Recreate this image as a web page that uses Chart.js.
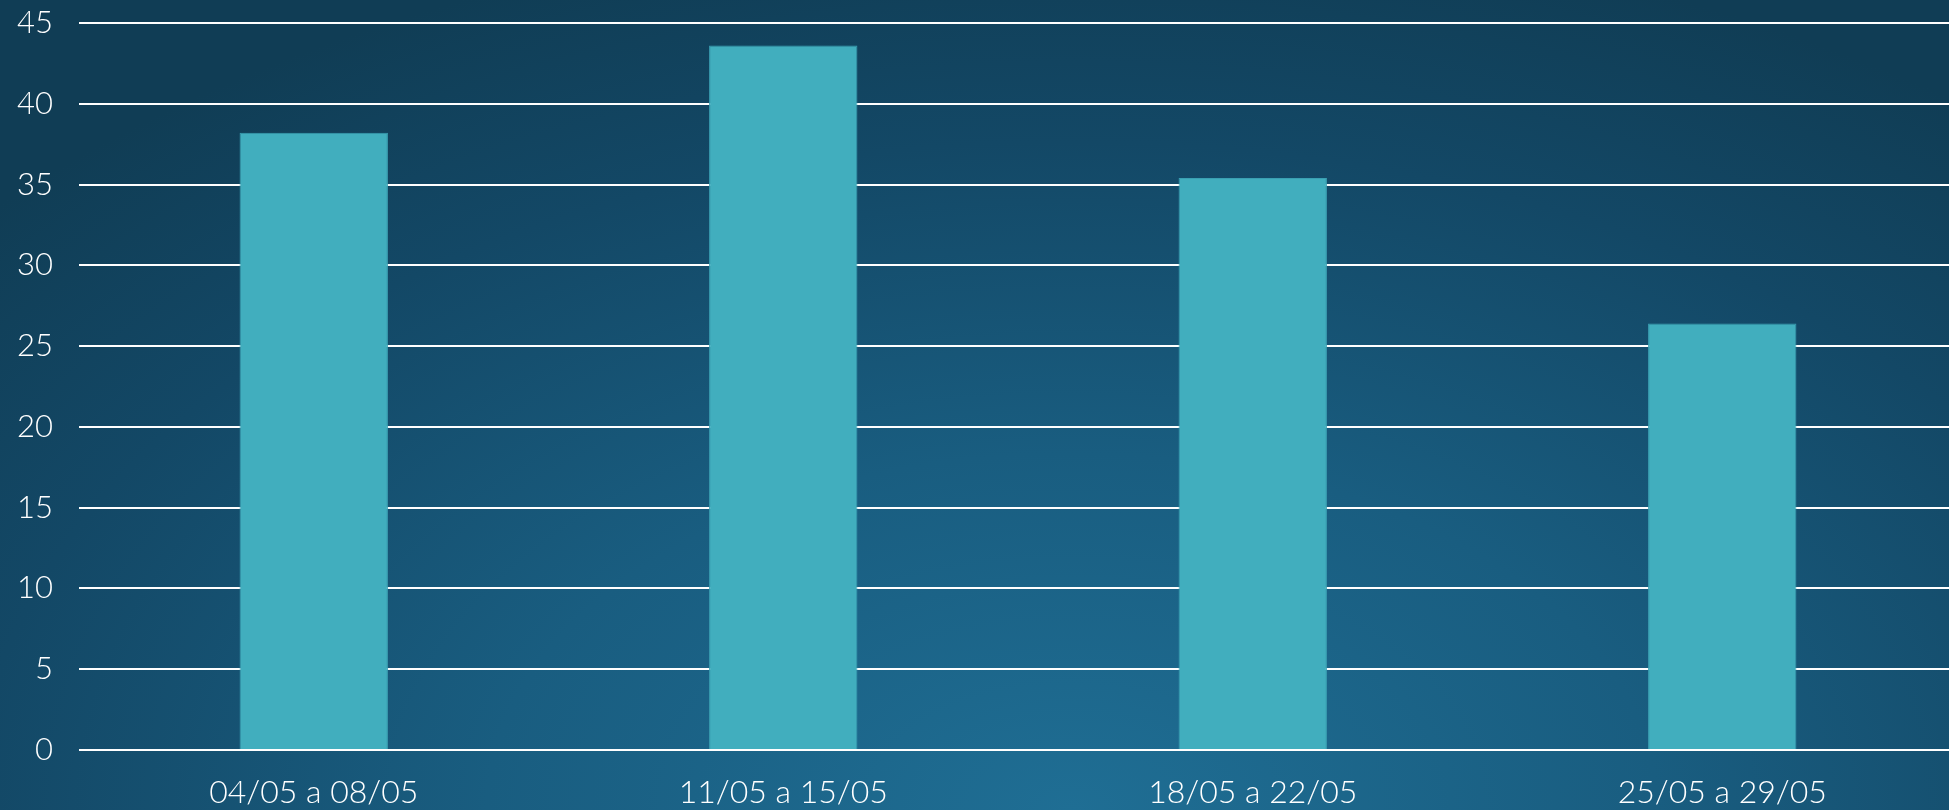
<!DOCTYPE html>
<html>
<head>
<meta charset="utf-8">
<script src="https://cdn.jsdelivr.net/npm/chart.js@4"></script>
<style>
html,body{margin:0;padding:0;width:1949px;height:810px;overflow:hidden;}
body{background:radial-gradient(ellipse 75% 110% at 55% 100%, #1f6e94 0%, #195d80 40%, #134866 75%, #103d55 100%);}
#wrap{position:absolute;left:0;top:0;width:1957px;height:810px;}
</style>
</head>
<body>
<div id="wrap"><canvas id="c"></canvas></div>
<script>
const categories = ["04/05 a 08/05", "11/05 a 15/05", "18/05 a 22/05", "25/05 a 29/05"];
const values = [38.2, 43.6, 35.4, 26.4];
const yMin = 0, yMax = 45, yStep = 5;

Chart.defaults.font.family = "Lato, 'Open Sans', sans-serif";
new Chart(document.getElementById('c'), {
  type: 'bar',
  data: {
    labels: categories,
    datasets: [{
      data: values,
      backgroundColor: '#41aebe',
      borderColor: '#3a9fb2',
      borderWidth: 1,
      categoryPercentage: 1,
      barPercentage: 0.316
    }]
  },
  options: {
    responsive: true,
    maintainAspectRatio: false,
    animation: false,
    layout: { padding: { left: 0, top: 23, right: 0, bottom: 0 } },
    plugins: { legend: { display: false }, tooltip: { enabled: false } },
    scales: {
      x: {
        grid: { display: false, drawTicks: false },
        border: { display: false },
        afterFit: (s) => { s.height = 60; },
        ticks: { color: '#ffffff', font: { size: 32, weight: '300' }, padding: 23, maxRotation: 0 }
      },
      y: {
        min: yMin, max: yMax,
        afterFit: (s) => { s.width = 79; s.paddingTop = 0; s.paddingBottom = 0; },
        grid: { color: '#ffffff', lineWidth: 2, drawTicks: false },
        border: { display: false },
        ticks: { stepSize: yStep, color: '#ffffff', font: { size: 31, weight: '300' }, padding: 26 }
      }
    }
  }
});
</script>
</body>
</html>
